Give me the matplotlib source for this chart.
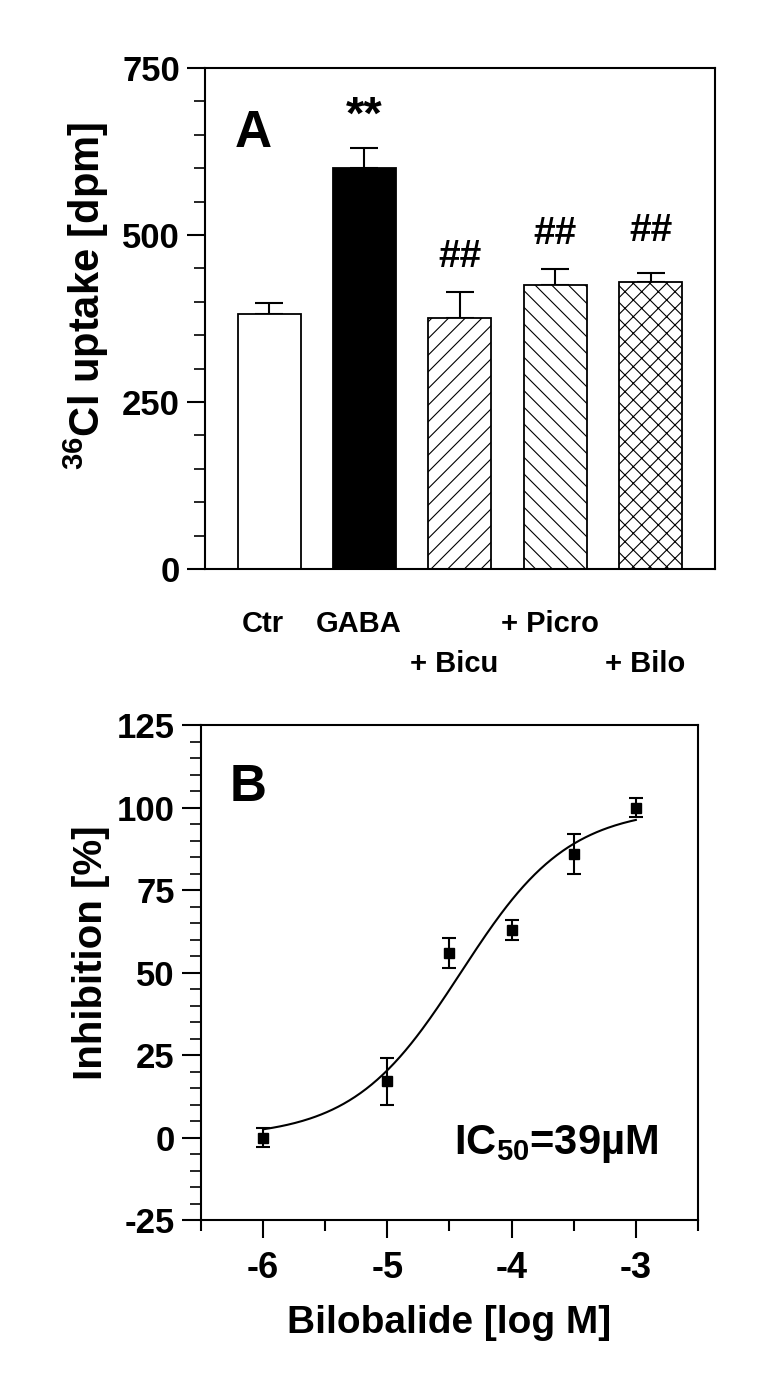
import numpy as np
import matplotlib
matplotlib.use("Agg")
import matplotlib.pyplot as plt
from matplotlib.ticker import MultipleLocator

plt.rcParams['font.family'] = ['Liberation Sans', 'DejaVu Sans']
plt.rcParams['font.weight'] = 'bold'
plt.rcParams['mathtext.fontset'] = 'custom'
plt.rcParams['mathtext.rm'] = 'Liberation Sans:bold'
plt.rcParams['mathtext.bf'] = 'Liberation Sans:bold'
plt.rcParams['hatch.linewidth'] = 0.8
plt.rcParams['axes.unicode_minus'] = False

# panel A: 36Cl uptake
groups = ["Ctr", "GABA", "+ Bicu", "+ Picro", "+ Bilo"]
uptake = [382, 601, 376, 425, 430]
uptake_sem = [16, 29, 39, 24, 13]
marks = ["", "**", "##", "##", "##"]
mark_y = [None, 677, 467, 502, 506]

# panel B: inhibition vs log concentration
log_conc = [-6, -5, -4.5, -4, -3.5, -3]
inhibition = [0, 17, 56, 63, 86, 100]
inhibition_sem = [3, 7, 4.5, 3, 6, 3]
ic50_log = np.log10(39e-6)
hill = 1.0
bottom, top = 0, 100

fig = plt.figure(figsize=(7.71, 13.8), dpi=100)

# ---------- A ----------
ax = fig.add_axes([0.266, 0.5877, 0.661, 0.363])
x = np.arange(len(groups))
fills = ["white", "black", "white", "white", "white"]
hatches = [None, None, "//", "\\\\", "xx"]
for i in range(len(groups)):
    ax.bar(x[i], uptake[i], width=0.66, color=fills[i], edgecolor="black",
           linewidth=1.3, hatch=hatches[i], zorder=2)
ax.errorbar(x, uptake, yerr=[np.zeros(len(x)), uptake_sem], fmt="none",
            ecolor="black", elinewidth=1.5, capsize=10, capthick=1.5, zorder=1)
for i, m in enumerate(marks):
    if not m:
        continue
    fs = 34 if m == "**" else 28
    ax.text(x[i], mark_y[i], m, ha="center", va="center", fontsize=fs,
            fontweight="bold")
ax.text(-0.167, 652, "A", ha="center", va="center", fontsize=37, fontweight="bold")

ax.set_xlim(-0.67, 4.67)
ax.set_ylim(0, 750)
ax.set_xticks([])
ax.yaxis.set_major_locator(MultipleLocator(250))
ax.yaxis.set_minor_locator(MultipleLocator(50))
ax.tick_params(axis="y", which="major", direction="out", length=13, width=1.5,
               labelsize=25, pad=5)
ax.tick_params(axis="y", which="minor", direction="out", length=8, width=1.2)
for s in ax.spines.values():
    s.set_linewidth(1.5)
for lab in ax.get_yticklabels():
    lab.set_fontweight("bold")
ax.set_ylabel("$^{36}$Cl uptake [dpm]", fontsize=30, fontweight="bold")
ax.yaxis.set_label_coords(-0.184, 0.545)

rows = [-0.11, -0.11, -0.19, -0.11, -0.19]
for i, g in enumerate(groups):
    ax.text(x[i] - 0.06, rows[i], g, transform=ax.get_xaxis_transform(),
            ha="center", va="center", fontsize=21, fontweight="bold")

# ---------- B ----------
bx = fig.add_axes([0.2607, 0.1159, 0.6446, 0.3587])
xs = np.linspace(-6, -3, 200)
fit = bottom + (top - bottom) / (1 + 10 ** ((ic50_log - xs) * hill))
bx.plot(xs, fit, color="black", linewidth=1.5)
bx.errorbar(log_conc, inhibition, yerr=inhibition_sem, fmt="s", color="black",
            markersize=7, elinewidth=1.5, capsize=5, capthick=1.5)
bx.text(-6.12, 106, "B", ha="center", va="center", fontsize=37, fontweight="bold")
bx.text(-3.64, -2, "IC$_{50}$=39µM", ha="center", va="center", fontsize=30,
        fontweight="bold")

bx.set_xlim(-6.5, -2.5)
bx.set_ylim(-25, 125)
bx.xaxis.set_major_locator(MultipleLocator(1))
bx.xaxis.set_minor_locator(MultipleLocator(0.5))
bx.yaxis.set_major_locator(MultipleLocator(25))
bx.yaxis.set_minor_locator(MultipleLocator(5))
bx.tick_params(axis="x", which="major", direction="out", length=13, width=1.5,
               labelsize=26, pad=9)
bx.tick_params(axis="x", which="minor", direction="out", length=8, width=1.5)
bx.tick_params(axis="y", which="major", direction="out", length=14, width=1.5,
               labelsize=25, pad=5)
bx.tick_params(axis="y", which="minor", direction="out", length=8, width=1.2)
for s in bx.spines.values():
    s.set_linewidth(1.5)
for lab in bx.get_xticklabels() + bx.get_yticklabels():
    lab.set_fontweight("bold")
bx.set_ylabel("Inhibition [%]", fontsize=29, fontweight="bold")
bx.yaxis.set_label_coords(-0.183, 0.54)
bx.set_xlabel("Bilobalide [log M]", fontsize=28, fontweight="bold")
bx.xaxis.set_label_coords(0.5, -0.172)

fig.savefig("out.png", dpi=100)
